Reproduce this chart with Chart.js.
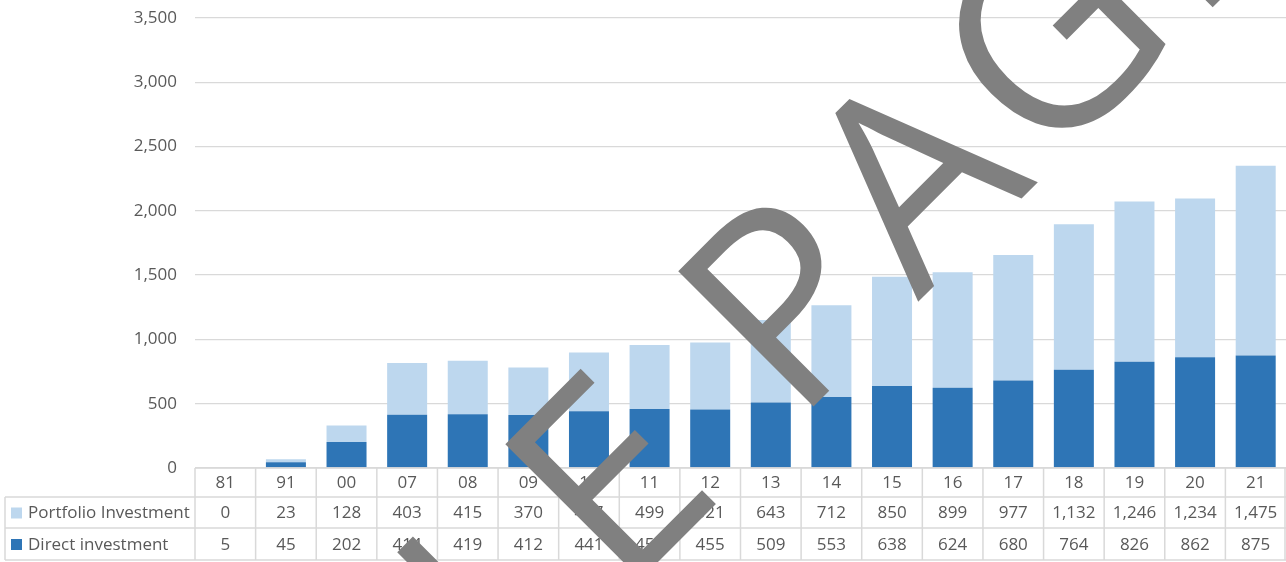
<!DOCTYPE html>
<html>
<head>
<meta charset="utf-8">
<script src="https://cdn.jsdelivr.net/npm/chart.js@4.4.0/dist/chart.umd.min.js"></script>
<style>
  html, body { margin: 0; padding: 0; background: #fff; }
  #wrap { width: 1286px; height: 562px; position: relative; }
</style>
</head>
<body>
<div id="wrap"><canvas id="chart" width="1286" height="562"></canvas></div>
<script>
// years along the bottom (two-digit)
var years = ['81', '91', '00', '07', '08', '09', '10', '11', '12', '13', '14', '15', '16', '17', '18', '19', '20', '21'];
var portfolioInvestment = [0, 23, 128, 403, 415, 370, 457, 499, 521, 643, 712, 850, 899, 977, 1132, 1246, 1234, 1475];
var directInvestment = [5, 45, 202, 414, 419, 412, 441, 458, 455, 509, 553, 638, 624, 680, 764, 826, 862, 875];
var yTicks = [0, 500, 1000, 1500, 2000, 2500, 3000, 3500];

var FONT = '"Open Sans", sans-serif';
var TEXT = '#595959';
var LINE = '#D9D9D9';
var LIGHT = '#BDD7EE';
var DARK = '#2E75B6';

function fmt(v) { return Number(v).toLocaleString('en-US'); }

var tableRows = [
  { label: 'Portfolio Investment', color: LIGHT, values: portfolioInvestment },
  { label: 'Direct investment', color: DARK, values: directInvestment }
];

// data table drawn under the plot area
var dataTable = {
  id: 'dataTable',
  afterDraw: function(chart) {
    var ctx = chart.ctx;
    var area = chart.chartArea;
    var xs = chart.scales.x;
    var colW = (area.right - area.left) / years.length;
    var heights = [29, 31, 32];
    var tops = [area.bottom];
    heights.forEach(function(h, i) { tops.push(tops[i] + h); });
    var tableLeft = 5;

    ctx.save();
    ctx.strokeStyle = LINE;
    ctx.lineWidth = 1.5;
    ctx.beginPath();
    // horizontal lines
    ctx.moveTo(area.left, tops[0]); ctx.lineTo(area.right, tops[0]);
    for (var r = 1; r < tops.length; r++) {
      ctx.moveTo(tableLeft, tops[r]); ctx.lineTo(area.right, tops[r]);
    }
    // vertical lines
    for (var c = 0; c <= years.length; c++) {
      var x = area.left + c * colW;
      if (c === years.length) x -= 1;
      ctx.moveTo(x, tops[0]); ctx.lineTo(x, tops[3]);
    }
    ctx.moveTo(tableLeft, tops[1]); ctx.lineTo(tableLeft, tops[3]);
    ctx.stroke();

    ctx.fillStyle = TEXT;
    ctx.font = '17px ' + FONT;
    ctx.textBaseline = 'middle';
    ctx.textAlign = 'center';
    years.forEach(function(y, i) {
      ctx.fillText(y, xs.getPixelForValue(i), (tops[0] + tops[1]) / 2 + 1);
    });
    tableRows.forEach(function(row, r) {
      var cy = (tops[r + 1] + tops[r + 2]) / 2 + 1;
      ctx.textAlign = 'center';
      ctx.fillStyle = TEXT;
      row.values.forEach(function(v, i) {
        ctx.fillText(fmt(v), xs.getPixelForValue(i), cy);
      });
      ctx.fillStyle = row.color;
      ctx.fillRect(11, cy - 6, 11, 11);
      ctx.fillStyle = TEXT;
      ctx.textAlign = 'left';
      ctx.fillText(row.label, 28, cy);
    });
    ctx.restore();
  }
};

// diagonal grey watermark across the chart
var watermark = {
  id: 'watermark',
  afterDraw: function(chart) {
    var ctx = chart.ctx;
    ctx.save();
    ctx.translate(795, 425);
    ctx.rotate(-45 * Math.PI / 180);
    ctx.font = '268px "Open Sans", sans-serif';
    ctx.letterSpacing = '13px';
    ctx.fillStyle = '#808080';
    ctx.textBaseline = 'alphabetic';
    ctx.textAlign = 'left';
    ctx.fillText('PAGE', 0, 0);
    ctx.textAlign = 'right';
    ctx.fillText('SAMPLE ', 0, 0);
    ctx.restore();
  }
};

var ctx = document.getElementById('chart').getContext('2d');
new Chart(ctx, {
  type: 'bar',
  data: {
    labels: years,
    datasets: [
      {
        label: 'Direct investment',
        data: directInvestment,
        backgroundColor: DARK,
        barPercentage: 0.66,
        categoryPercentage: 1
      },
      {
        label: 'Portfolio Investment',
        data: portfolioInvestment,
        backgroundColor: LIGHT,
        barPercentage: 0.66,
        categoryPercentage: 1
      }
    ]
  },
  options: {
    responsive: false,
    animation: false,
    layout: { padding: { top: 18, bottom: 94, left: 0, right: 0 } },
    plugins: {
      legend: { display: false },
      tooltip: { enabled: false }
    },
    scales: {
      x: {
        stacked: true,
        display: false
      },
      y: {
        stacked: true,
        min: 0,
        max: 3500,
        afterFit: function(scale) {
          scale.width = 195;
          scale.paddingTop = 0;
          scale.paddingBottom = 0;
        },
        afterBuildTicks: function(scale) {
          scale.ticks = yTicks.map(function(v) { return { value: v }; });
        },
        ticks: {
          padding: 18,
          color: TEXT,
          font: { family: FONT, size: 17 },
          callback: function(v) { return fmt(v); }
        },
        grid: { color: LINE, lineWidth: 1.3, drawTicks: false },
        border: { display: false }
      }
    }
  },
  plugins: [dataTable, watermark]
});
</script>
</body>
</html>
